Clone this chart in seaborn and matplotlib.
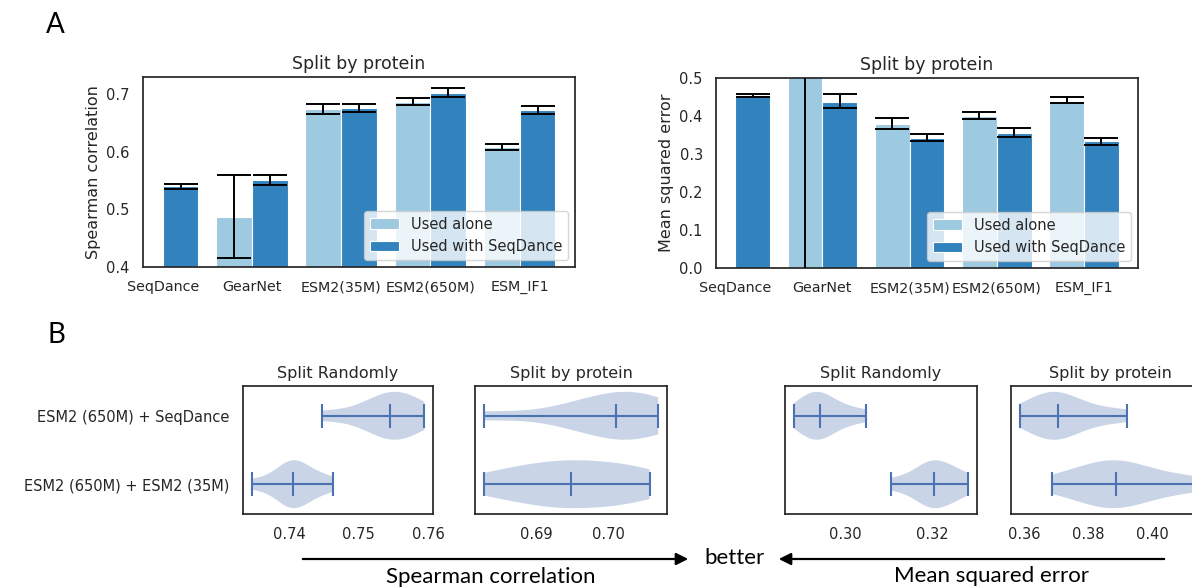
import numpy as np
import pandas as pd
import matplotlib
matplotlib.use("Agg")
import matplotlib.pyplot as plt
import seaborn as sns
from matplotlib.patches import FancyArrowPatch
from matplotlib.ticker import FormatStrFormatter

nan = np.nan
# ---------------- Panel A data ----------------
models = ["SeqDance", "GearNet", "ESM2(35M)", "ESM2(650M)", "ESM_IF1"]
hue_levels = ["Used alone", "Used with SeqDance"]

spear_alone = [nan, 0.487, 0.674, 0.687, 0.608]
spear_alone_lo = [nan, 0.416, 0.666, 0.682, 0.604]
spear_alone_hi = [nan, 0.559, 0.684, 0.694, 0.613]
spear_with = [0.540, 0.551, 0.676, 0.702, 0.672]
spear_with_lo = [0.536, 0.543, 0.670, 0.695, 0.666]
spear_with_hi = [0.544, 0.560, 0.683, 0.711, 0.679]

mse_alone = [nan, 0.72, 0.378, 0.399, 0.439]
mse_alone_lo = [nan, -0.05, 0.366, 0.392, 0.433]
mse_alone_hi = [nan, 1.50, 0.394, 0.410, 0.451]
mse_with = [0.453, 0.437, 0.341, 0.355, 0.333]
mse_with_lo = [0.449, 0.420, 0.334, 0.346, 0.324]
mse_with_hi = [0.458, 0.458, 0.352, 0.369, 0.343]

# ---------------- Panel B data (per-run scores) ----------------
combo_labels = ["ESM2 (650M) + ESM2 (35M)", "ESM2 (650M) + SeqDance"]
spear_random_esm = [0.7346, 0.7385, 0.7398, 0.7403, 0.7406, 0.7412, 0.7420, 0.7440, 0.7463]
spear_random_seq = [0.7447, 0.7500, 0.7525, 0.7540, 0.7545, 0.7555, 0.7565, 0.7580, 0.7595]
spear_protein_esm = [0.6828, 0.6870, 0.6905, 0.6930, 0.6948, 0.6975, 0.7005, 0.7035, 0.7057]
spear_protein_seq = [0.6828, 0.6935, 0.6975, 0.6995, 0.7011, 0.7030, 0.7045, 0.7058, 0.7069]
mse_random_esm = [0.3105, 0.3160, 0.3185, 0.3198, 0.3205, 0.3215, 0.3235, 0.3260, 0.3284]
mse_random_seq = [0.2880, 0.2905, 0.2920, 0.2930, 0.2940, 0.2950, 0.2970, 0.3000, 0.3047]
mse_protein_esm = [0.3688, 0.3780, 0.3830, 0.3865, 0.3888, 0.3915, 0.3960, 0.4040, 0.4150]
mse_protein_seq = [0.3588, 0.3640, 0.3670, 0.3690, 0.3706, 0.3725, 0.3760, 0.3830, 0.3922]

sns.set_theme(style="white")
plt.rcParams["font.family"] = ["DejaVu Sans"]

fig = plt.figure(figsize=(11.92, 5.87), dpi=100)

palette = {"Used alone": "#9ecae1", "Used with SeqDance": "#3182bd"}


def draw_bars(ax, alone, alone_lo, alone_hi, withv, with_lo, with_hi, ylabel, ylim, yticks):
    df = pd.DataFrame({
        "model": models * 2,
        "setting": [hue_levels[0]] * len(models) + [hue_levels[1]] * len(models),
        "value": list(alone) + list(withv),
    }).dropna()
    sns.barplot(data=df, x="model", y="value", hue="setting", order=models,
                hue_order=hue_levels, palette=palette, errorbar=None, ax=ax,
                saturation=1, edgecolor="white", linewidth=0.8)
    lo = {hue_levels[0]: alone_lo, hue_levels[1]: with_lo}
    hi = {hue_levels[0]: alone_hi, hue_levels[1]: with_hi}
    for p in ax.patches:
        h = p.get_height()
        if not np.isfinite(h) or p.get_width() == 0:
            continue
        xc = p.get_x() + p.get_width() / 2
        i = int(round(xc))
        hue = hue_levels[0] if xc < i else hue_levels[1]
        l, u = lo[hue][i], hi[hue][i]
        ax.errorbar(xc, h, yerr=[[h - l], [u - h]], fmt="none", ecolor="black",
                    elinewidth=1.4, capsize=12, capthick=1.4, zorder=5)
    ax.set_ylim(*ylim)
    ax.set_yticks(yticks)
    ax.set_xlim(-0.22, 4.62)
    ax.set_xlabel("")
    ax.set_ylabel(ylabel, fontsize=11.5)
    ax.set_title("Split by protein", fontsize=12.5)
    ax.tick_params(axis="y", labelsize=10.5)
    ax.tick_params(axis="x", labelsize=10.3)
    ax.legend(loc="lower right", fontsize=10.5, title=None, frameon=True)


axA1 = fig.add_axes([0.120, 0.5451, 0.3624, 0.3237])
draw_bars(axA1, spear_alone, spear_alone_lo, spear_alone_hi,
          spear_with, spear_with_lo, spear_with_hi,
          "Spearman correlation", (0.4, 0.73), [0.4, 0.5, 0.6, 0.7])
axA2 = fig.add_axes([0.6007, 0.5434, 0.354, 0.3237])
draw_bars(axA2, mse_alone, mse_alone_lo, mse_alone_hi,
          mse_with, mse_with_lo, mse_with_hi,
          "Mean squared error", (0.0, 0.5), [0.0, 0.1, 0.2, 0.3, 0.4, 0.5])


def draw_violins(ax, esm, seq, title, xticks, show_labels):
    c = sns.color_palette("deep")[0]
    parts = ax.violinplot([esm, seq], positions=[1, 2], orientation="horizontal",
                          widths=0.7, showmedians=True, showextrema=True)
    for b in parts["bodies"]:
        b.set_facecolor(c)
        b.set_edgecolor("none")
        b.set_alpha(0.3)
    for key in ["cmins", "cmaxes", "cbars", "cmedians"]:
        parts[key].set_color(c)
        parts[key].set_linewidth(1.5)
    ax.set_title(title, fontsize=11.5)
    ax.set_xticks(xticks)
    ax.xaxis.set_major_formatter(FormatStrFormatter("%.2f"))
    ax.tick_params(labelsize=10.5)
    ax.set_yticks([1, 2])
    if show_labels:
        ax.set_yticklabels(combo_labels)
    else:
        ax.set_yticklabels([])


yb, hb = 0.1244, 0.218
axB1 = fig.add_axes([0.2039, yb, 0.1594, hb])
draw_violins(axB1, spear_random_esm, spear_random_seq, "Split Randomly", [0.74, 0.75, 0.76], True)
axB2 = fig.add_axes([0.3985, yb, 0.161, hb])
draw_violins(axB2, spear_protein_esm, spear_protein_seq, "Split by protein", [0.69, 0.70], False)
axB3 = fig.add_axes([0.6586, yb, 0.161, hb])
draw_violins(axB3, mse_random_esm, mse_random_seq, "Split Randomly", [0.30, 0.32], False)
axB4 = fig.add_axes([0.8482, yb, 0.166, hb])
draw_violins(axB4, mse_protein_esm, mse_protein_seq, "Split by protein", [0.36, 0.38, 0.40], False)

# ---------------- annotations ----------------
lab_font = ["Lato", "DejaVu Sans"]
fig.text(0.046, 0.957, "A", fontsize=20, ha="center", va="center", family=lab_font, color="black")
fig.text(0.047, 0.429, "B", fontsize=20, ha="center", va="center", family=lab_font, color="black")

y_arrow = 1 - 559 / 587
fig.add_artist(FancyArrowPatch((0.2517, y_arrow), (0.5797, y_arrow), transform=fig.transFigure,
                               arrowstyle="-|>", mutation_scale=18, lw=1.6, color="black"))
fig.add_artist(FancyArrowPatch((0.979, y_arrow), (0.651, y_arrow), transform=fig.transFigure,
                               arrowstyle="-|>", mutation_scale=18, lw=1.6, color="black"))
fig.text(0.6158, 0.0494, "better", fontsize=16, ha="center", va="center", family=lab_font, color="black")
fig.text(0.412, 0.017, "Spearman correlation", fontsize=16, ha="center", va="center", family=lab_font, color="black")
fig.text(0.832, 0.0187, "Mean squared error", fontsize=16, ha="center", va="center", family=lab_font, color="black")

fig.savefig("out.png", dpi=100)
